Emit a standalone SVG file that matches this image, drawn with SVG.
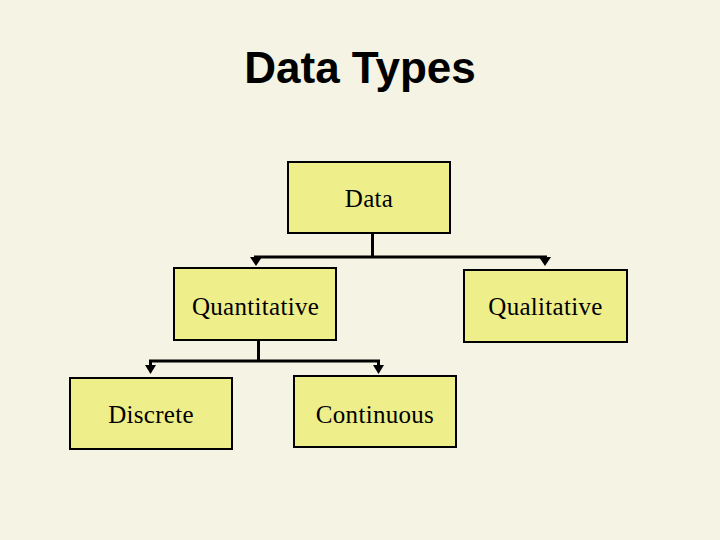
<svg xmlns="http://www.w3.org/2000/svg" width="720" height="540" viewBox="0 0 720 540">
<style>
.box{fill:#eeee8a;stroke:#000;stroke-width:2}
.lbl{font-family:"Liberation Serif","Times New Roman",serif;font-size:25px;fill:#000;text-anchor:middle;letter-spacing:0.3px}
.title{font-family:"Liberation Sans",Arial,sans-serif;font-weight:bold;font-size:44px;fill:#000;text-anchor:middle}
.conn{fill:none;stroke:#000;stroke-width:3}
.head{fill:#000}
</style>
<rect width="720" height="540" fill="#f5f3e4"/>
<text class="title" x="360" y="83">Data Types</text>
<g id="connectors">
<path class="conn" d="M372.5,233 V257"/>
<path class="conn" d="M254,257 H547"/>
<path class="head" d="M250,257 L262,257 L256,266 Z"/>
<path class="head" d="M539,257 L551,257 L545,266 Z"/>
<path class="conn" d="M258.5,340 V361"/>
<path class="conn" d="M149,361 H380"/>
<path class="conn" d="M150.5,361 V367"/>
<path class="conn" d="M378.5,361 V367"/>
<path class="head" d="M145,365 L156,365 L150.5,374 Z"/>
<path class="head" d="M373,365 L384,365 L378.5,374 Z"/>
</g>
<g id="data"><rect class="box" x="288" y="162" width="162" height="71"/><text class="lbl" x="369" y="207">Data</text></g>
<g id="quantitative"><rect class="box" x="174" y="268" width="162" height="72"/><text class="lbl" x="255.5" y="315">Quantitative</text></g>
<g id="qualitative"><rect class="box" x="464" y="270" width="163" height="72"/><text class="lbl" x="545.5" y="315">Qualitative</text></g>
<g id="discrete"><rect class="box" x="70" y="378" width="162" height="71"/><text class="lbl" x="151" y="423">Discrete</text></g>
<g id="continuous"><rect class="box" x="294" y="376" width="162" height="71"/><text class="lbl" x="375" y="423">Continuous</text></g>
</svg>
